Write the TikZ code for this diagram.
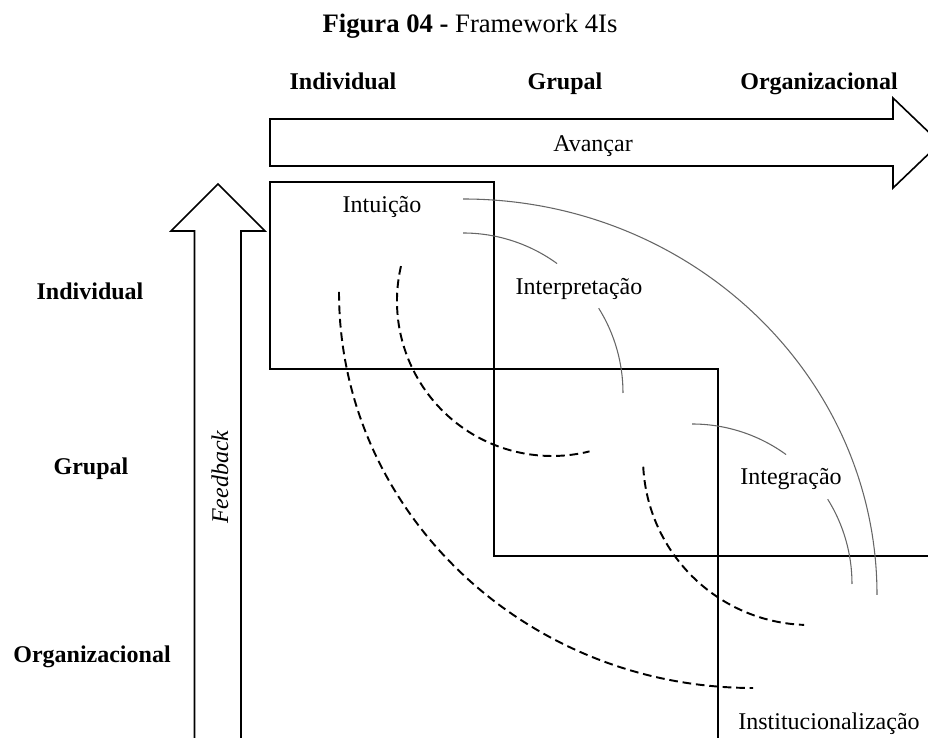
\documentclass[tikz,border=0pt]{standalone}
\usepackage{fontspec}
\setmainfont{Liberation Serif}
\usetikzlibrary{positioning}
\tikzset{lbl/.style = {inner sep = 0, anchor = base, font = \fontsize{18}{22}\selectfont}}
\tikzset{hdr/.style = {lbl, font = \fontsize{18}{22}\selectfont\bfseries}}
\tikzset{boxline/.style = {line width = 1.6pt, line join = miter}}
\tikzset{arrowline/.style = {line width = 1.2pt, line join = miter}}
\tikzset{solidarc/.style = {line width = 0.8pt, draw = black!60}}
\tikzset{dasharc/.style = {line width = 1.45pt, dash pattern = on 6.5pt off 3.6pt}}

\begin{document}
\begin{tikzpicture}[x = 0.75pt, y = 0.75pt]
      \useasboundingbox (0, 0) rectangle (928, 738);

      \node [lbl, font = \fontsize{20}{24}\selectfont] (title) at (470, 705)
        {\textbf{Figura 04 -} Framework 4Is};

      % levels along the top
      \node [hdr] (colind) at (343, 648) {Individual};
      \node [hdr] (colgrp) at (565, 648) {Grupal};
      \node [hdr] (colorg) at (819, 648) {Organizacional};

      % levels along the side
      \node [hdr] (rowind) at (90, 438) {Individual};
      \node [hdr] (rowgrp) at (91, 263) {Grupal};
      \node [hdr] (roworg) at (92, 75) {Organizacional};

      % feed forward
      \draw [arrowline] (270, 572) -- (893, 572) -- (893, 550) -- (940, 595)
        -- (893, 640) -- (893, 619) -- (270, 619) -- cycle;
      \node [lbl] (avancar) at (593, 586) {Avançar};

      % feedback
      \draw [arrowline] (194.5, -2) -- (194.5, 507) -- (171, 507) -- (218, 554)
        -- (265, 507) -- (241, 507) -- (241, -2);
      \node [lbl, rotate = 90] (feedback) at (228, 261) {\textit{Feedback}};

      % steps
      \draw [boxline] (270, 369) rectangle (494, 556);
      \draw [boxline] (494, 182) rectangle (718, 369);
      \draw [boxline] (718, -2) -- (718, 182) -- (930, 182);

      \node [lbl] (intuicao) at (382, 525) {Intuição};
      \node [lbl] (interp) at (579, 443) {Interpretação};
      \node [lbl] (integr) at (791, 253) {Integração};
      \node [lbl] (instit) at (829, 8) {Institucionalização};

      % forward arcs
      \coordinate (cbig) at (463, 143);
      \coordinate (cone) at (463, 345);
      \coordinate (ctwo) at (692, 154);
      \draw [solidarc] (cbig) ++(90:396) arc [start angle = 90, end angle = 0,
        x radius = 414, y radius = 396];
      \draw [solidarc] (cone) ++(90:160) arc [start angle = 90, end angle = 54, radius = 160];
      \draw [solidarc] (cone) ++(32:160) arc [start angle = 32, end angle = 0, radius = 160];
      \draw [solidarc] (ctwo) ++(90:160) arc [start angle = 90, end angle = 54, radius = 160];
      \draw [solidarc] (ctwo) ++(32:160) arc [start angle = 32, end angle = 0, radius = 160];

      % feedback arcs
      \coordinate (dbig) at (753, 446);
      \coordinate (done) at (552, 437);
      \coordinate (dtwo) at (810, 280);
      \draw [dasharc] (dbig) ++(-414, 0) arc [start angle = 180, end angle = 270,
        x radius = 414, y radius = 396];
      \draw [dasharc] (done) ++(167:155) arc [start angle = 167, end angle = 284, radius = 155];
      \draw [dasharc] (dtwo) ++(183:167) arc [start angle = 183, end angle = 268, radius = 167];
    \end{tikzpicture}
\end{document}
